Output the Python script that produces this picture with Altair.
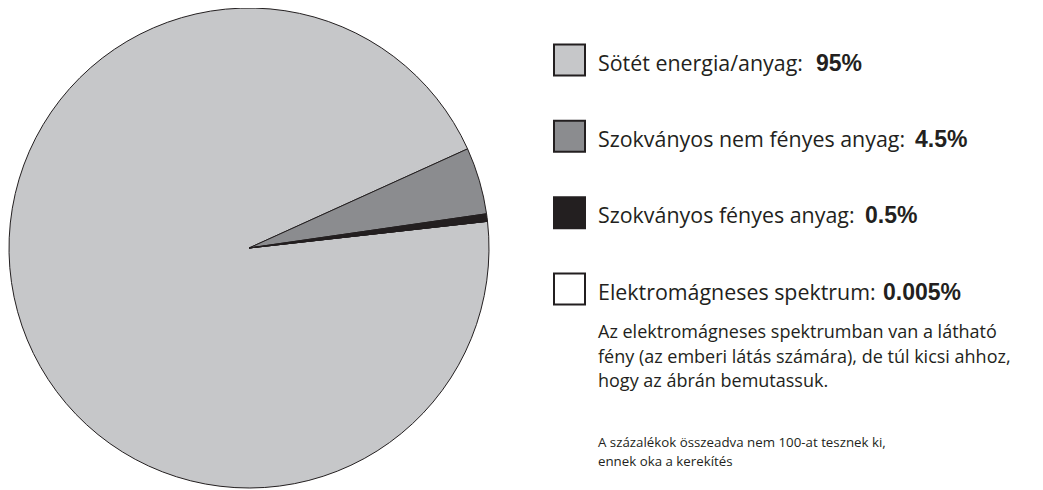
import math
import altair as alt
import pandas as pd

# ---- data ----
categories = ["Sötét energia/anyag", "Szokványos nem fényes anyag",
              "Szokványos fényes anyag", "Elektromágneses spektrum"]
values = [95, 4.5, 0.5, 0.005]
pct_labels = ["95%", "4.5%", "0.5%", "0.005%"]
colors = ["#c6c7c9", "#8b8c8f", "#231f20", "#ffffff"]
note_lines = ["Az elektromágneses spektrumban van a látható",
              "fény (az emberi látás számára), de túl kicsi ahhoz,",
              "hogy az ábrán bemutassuk."]
foot_lines = ["A százalékok összeadva nem 100-at tesznek ki,",
              "\u00a0ennek oka a kerekítés"]

# ---- layout ----
W, H = 1027, 482
CX, CY, R = 241, 240, 240
START = math.radians(83.62)
PCT_X = [808, 907, 857, 875]
DARK = "#231f20"
REG_FONT = "Open Sans"
BOLD_FONT = "Liberation Sans"

df = pd.DataFrame({
    "category": categories,
    "value": values,
    "idx": list(range(len(categories))),
    "label": [c + ":" for c in categories],
    "pct": pct_labels,
    "pct_x": PCT_X,
})

color_scale = alt.Scale(domain=categories, range=colors)
yscale = alt.Scale(type="point", domain=categories, range=[52, 281], padding=0)

pie = alt.Chart(df).mark_arc(radius=R, stroke=DARK, strokeWidth=1).encode(
    theta=alt.Theta("value:Q", stack=True,
                    scale=alt.Scale(range=[START, START + 2 * math.pi])),
    order=alt.Order("idx:Q"),
    color=alt.Color("category:N", scale=color_scale, legend=None),
    x=alt.value(CX), y=alt.value(CY),
)

squares = alt.Chart(df).mark_square(size=31 * 31, stroke=DARK, strokeWidth=2,
                                    opacity=1, filled=True).encode(
    x=alt.value(561.5),
    y=alt.Y("category:N", scale=yscale, axis=None),
    fill=alt.Color("category:N", scale=color_scale, legend=None),
)

labels = alt.Chart(df).mark_text(align="left", baseline="alphabetic", dy=10.5,
                                 font=REG_FONT, fontSize=21.4, color=DARK).encode(
    x=alt.value(590),
    y=alt.Y("category:N", scale=yscale, axis=None),
    text="label:N",
)

pcts = alt.Chart(df).mark_text(align="left", baseline="alphabetic", dy=10.5,
                               font=BOLD_FONT, fontSize=23, fontWeight="bold",
                               color=DARK).encode(
    x=alt.X("pct_x:Q", scale=None),
    y=alt.Y("category:N", scale=yscale, axis=None),
    text="pct:N",
)

note = alt.Chart(pd.DataFrame({"t": [note_lines]})).mark_text(
    align="left", baseline="alphabetic", font=REG_FONT, fontSize=18,
    lineHeight=24.5, color=DARK).encode(
    x=alt.value(590), y=alt.value(330), text="t")

foot = alt.Chart(pd.DataFrame({"t": [foot_lines]})).mark_text(
    align="left", baseline="alphabetic", font=REG_FONT, fontSize=13.3,
    lineHeight=19, color=DARK).encode(
    x=alt.value(590), y=alt.value(439), text="t")

chart = alt.layer(pie, squares, labels, pcts, note, foot).resolve_scale(
    color="independent"
).properties(
    width=W, height=H, padding=0, autosize=alt.AutoSizeParams(type="none")
).configure(background="#ffffff").configure_view(stroke=None)

chart.save("out.html", embed_options={"renderer": "svg", "actions": False})
